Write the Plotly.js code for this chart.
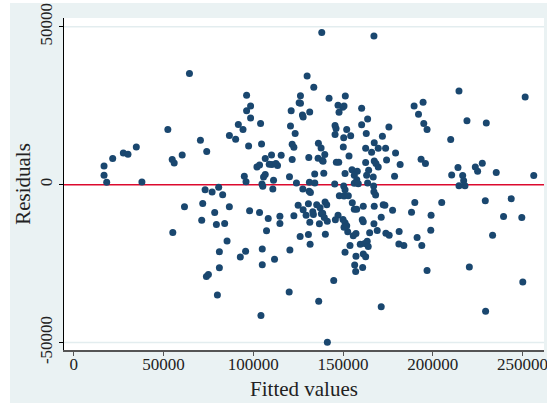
<!DOCTYPE html>
<html>
<head>
<meta charset="utf-8">
<script src="https://cdn.plot.ly/plotly-3.0.1.min.js"></script>
<style>
html,body{margin:0;padding:0;background:#ffffff;width:547px;height:403px;overflow:hidden;}
#chart{position:absolute;left:10px;top:3px;width:537px;height:400px;}
</style>
</head>
<body>
<div id="chart"></div>
<script>
const fitted = [
64450,52400,70560,74070,86700,16850,16850,18330,21670,27600,30190,34830,37960,54830,55940,60390,
73170,77060,80730,82950,86670,61670,71840,78510,71280,79450,84060,55170,85400,81120,81120,73890,75000,80010,
138170,167240,130010,133720,96290,126290,125560,126300,142230,151290,147230,149840,150570,147790,
98510,96290,98510,121120,131450,127400,127800,160390,163720,175570,171960,160390,162960,104070,91670,94280,
90180,120740,123340,145570,146120,145570,152060,154280,150390,97400,104620,121680,122630,136290,137790,139850,
138510,150170,153350,162620,167410,169630,173730,165950,167410,169630,168350,162620,174280,130950,136120,138900,
115560,110170,106670,102060,103510,108900,110390,113510,112620,121680,146290,147630,
155010,157960,156290,157680,156290,158520,151130,134230,139290,120180,105730,106670,95010,95960,
164290,163170,166850,167070,167220,168170,163720,111290,110900,104840,105300,124060,131290,134290,145380,
150390,151130,127620,131120,131840,147970,150580,152970,97960,103510,108340,114840,114840,107390,
95730,92780,105010,105010,111840,120400,122630,125010,127790,129450,130730,133170,133500,131510,
135340,137230,137950,136840,140010,140940,138680,139570,141230,126120,130730,131680,140180,
147230,145750,150020,151130,152070,152620,150570,155170,156290,157620,161290,167410,172410,173340,
160730,161290,167240,171290,164850,169070,173900,157230,155730,153900,151130,162060,163500,159620,164060,
161290,162620,157230,156510,157060,160950,144830,120010,136460,104290,171290,141290,
214630,251510,189620,194620,192070,195010,196840,219070,229850,210010,179290,181840,193510,195950,178730,
214070,210560,216680,217240,214630,217960,223730,225010,227620,235390,256290,
177620,190010,205010,229290,243730,188180,199080,239460,249630,175740,181290,198900,181120,183900,
191290,193900,233350,196840,220400,250180,229460
];
const residuals = [
35170,17490,14090,10490,15580,5920,2960,730,8270,10050,9640,11960,830,7950,6870,9410,
-1590,-2350,-860,-3180,-7000,-7000,-5950,-8810,-11260,-12620,-12310,-15170,-17810,-21210,-26300,-29070,-28430,-34980,
48210,47060,34440,30850,28300,28180,25950,25760,27350,28080,25120,24490,24900,22900,
24900,23410,21080,23410,22990,22040,21400,24170,20770,18220,15360,18960,16220,19390,19080,17490,
14410,18540,16220,18760,17810,15900,17490,15460,14820,12270,12910,12820,11860,13130,11640,9540,
7630,11960,9100,11540,13230,11540,11540,10270,7510,5600,6680,7000,7820,8590,8360,7410,
9320,9410,8270,5600,6230,6460,6360,6040,6680,7950,7090,7090,
4710,4230,2960,1530,410,250,3500,3370,3590,2540,2420,3180,2640,950,
4550,2960,2420,-450,-2230,-3310,510,1370,-1400,200,-500,510,730,510,190,
-450,-1590,-1400,-2130,-2450,-3500,-3630,-3500,-8270,-8810,-10720,-9990,-12310,-14630,
-21110,-22900,-20350,-25350,-23650,-20670,-9860,-6490,-7950,-9670,-6040,-8590,-9440,-11890,
-6360,-7310,-9220,-12400,-5530,-6360,-9030,-10400,-11580,-16440,-15800,-18890,-15710,
-9670,-11130,-11030,-12080,-13040,-14950,-13480,-5720,-7760,-7760,-6810,-6810,-6360,-6490,
-11130,-11770,-12410,-10300,-15260,-14530,-15390,-15490,-16220,-19300,-21430,-18670,-17940,-18890,-19620,
-21940,-22800,-22710,-25440,-27480,-26200,-30340,-34030,-36890,-41470,-38700,-49930,
29670,27760,24900,26080,22260,19400,17490,20230,19490,14310,10050,6360,8050,6680,2640,
5410,3050,2860,1270,-320,-320,5600,4230,6770,3820,2860,
-8080,-5630,-5630,-5090,-4450,-8710,-9670,-10080,-10400,-16030,-14850,-14440,-18760,-19300,
-16760,-19300,-16030,-27160,-26080,-30850,-40070
];
const xTicks = [0, 50000, 100000, 150000, 200000, 250000];
const yTicks = [-50000, 0, 50000];
const xTitle = "Fitted values";
const yTitle = "Residuals";

const trace = {
  x: fitted, y: residuals, type: 'scatter', mode: 'markers',
  marker: {color: '#1a476f', size: 7, line: {width: 0}},
  hoverinfo: 'skip', showlegend: false
};
const fnt = {family: 'Liberation Serif, Times New Roman, serif', size: 17, color: '#222222'};
const gridShapes = yTicks.filter(v => v !== 0).map(v => ({
  type: 'line', xref: 'paper', x0: 0, x1: 1, yref: 'y', y0: v, y1: v,
  line: {color: '#e3edef', width: 1.5}, layer: 'below'
}));
const layout = {
  width: 537, height: 400,
  margin: {l: 54, r: 3, t: 15, b: 53, pad: 0},
  paper_bgcolor: '#eaf2f3', plot_bgcolor: '#ffffff',
  font: fnt,
  showlegend: false,
  xaxis: {
    range: [-5460, 262000], tickvals: xTicks, ticktext: xTicks.map(String),
    showgrid: false, zeroline: false, showline: true, linecolor: '#555555', linewidth: 1.5,
    ticks: 'outside', ticklen: 4, tickcolor: '#555555', tickwidth: 1,
    tickfont: fnt, ticklabeloverflow: 'allow', ticklabelstandoff: -6,
    title: {text: xTitle, font: {family: fnt.family, size: 21, color: '#222222'}, standoff: 8}
  },
  yaxis: {
    range: [-52360, 52770], tickvals: yTicks, ticktext: yTicks.map(String),
    tickangle: -90,
    showgrid: false, zeroline: false,
    showline: true, linecolor: '#000000', linewidth: 1.5,
    ticks: 'outside', ticklen: 4, tickcolor: '#000000', tickwidth: 1,
    tickfont: fnt, ticklabeloverflow: 'allow',
    title: {text: yTitle, font: {family: fnt.family, size: 21, color: '#222222'}, standoff: 0}
  },
  shapes: gridShapes.concat([{type: 'line', xref: 'paper', x0: 0, x1: 1, yref: 'y', y0: 0, y1: 0,
            line: {color: '#dc0a2e', width: 1.5}, layer: 'below'}])
};
Plotly.newPlot('chart', [trace], layout, {displayModeBar: false, staticPlot: true});
</script>
</body>
</html>
